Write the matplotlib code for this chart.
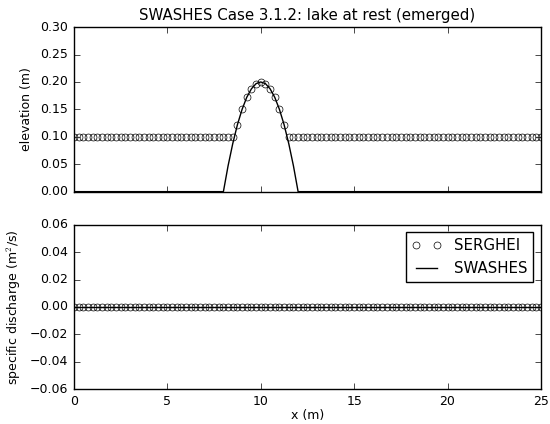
from matplotlib import pyplot as plt
from matplotlib import style

style.use('classic')
plt.rcParams['font.size'] = 9

# SERGHEI results, cells every 0.25 m from 0 to 25 m
x_serghei = [i * 0.25 for i in range(101)]
bump_surface = [0.122, 0.150, 0.172, 0.188, 0.197, 0.200,
                0.197, 0.188, 0.172, 0.150, 0.122]
h_serghei = [0.10] * 35 + bump_surface + [0.10] * 55
q_serghei = [0.0] * 101

# SWASHES analytic profile (bed elevation) and discharge
x_swashes = [0.0, 8.0, 8.25, 8.5, 8.75, 9.0, 9.25, 9.5, 9.75, 10.0,
             10.25, 10.5, 10.75, 11.0, 11.25, 11.5, 11.75, 12.0, 25.0]
z_swashes = [0.0, 0.0, 0.047, 0.0875, 0.122, 0.150, 0.172, 0.1875, 0.197, 0.200,
             0.197, 0.1875, 0.172, 0.150, 0.122, 0.0875, 0.047, 0.0, 0.0]
q_swashes = [0.0] * len(x_swashes)

fig = plt.figure(figsize=(5.5, 4.24), dpi=100)
ax1 = fig.add_axes([0.1345, 0.548, 0.849, 0.388])
ax2 = fig.add_axes([0.1345, 0.0825, 0.849, 0.387])

ax1.plot(x_serghei, h_serghei, 'o', mfc='none', mec='k', ms=5, mew=0.5)
ax1.plot(x_swashes, z_swashes, 'k-', lw=1)
ax1.set_xlim(0, 25)
ax1.set_ylim(0, 0.3)
ax1.set_yticks([0.0, 0.05, 0.10, 0.15, 0.20, 0.25, 0.30])
ax1.set_yticklabels(['0.00', '0.05', '0.10', '0.15', '0.20', '0.25', '0.30'])
ax1.set_xticklabels([])
ax1.set_ylabel('elevation (m)')
ax1.set_title('SWASHES Case 3.1.2: lake at rest (emerged)')

ax2.plot(x_serghei, q_serghei, 'o', mfc='none', mec='k', ms=5, mew=0.5, label='SERGHEI')
ax2.plot(x_swashes, q_swashes, 'k-', lw=1, label='SWASHES')
ax2.set_xlim(0, 25)
ax2.set_ylim(-0.06, 0.06)
ax2.set_yticks([-0.06, -0.04, -0.02, 0.0, 0.02, 0.04, 0.06])
ax2.set_yticklabels(['\u22120.06', '\u22120.04', '\u22120.02', '0.00', '0.02', '0.04', '0.06'])
ax2.tick_params(axis='x', pad=4)
ax2.set_xlabel('x (m)', labelpad=1)
ax2.set_ylabel('specific discharge (m$^2$/s)')
ax2.legend(loc='upper right', numpoints=2)

fig.savefig('out.png', dpi=100)
